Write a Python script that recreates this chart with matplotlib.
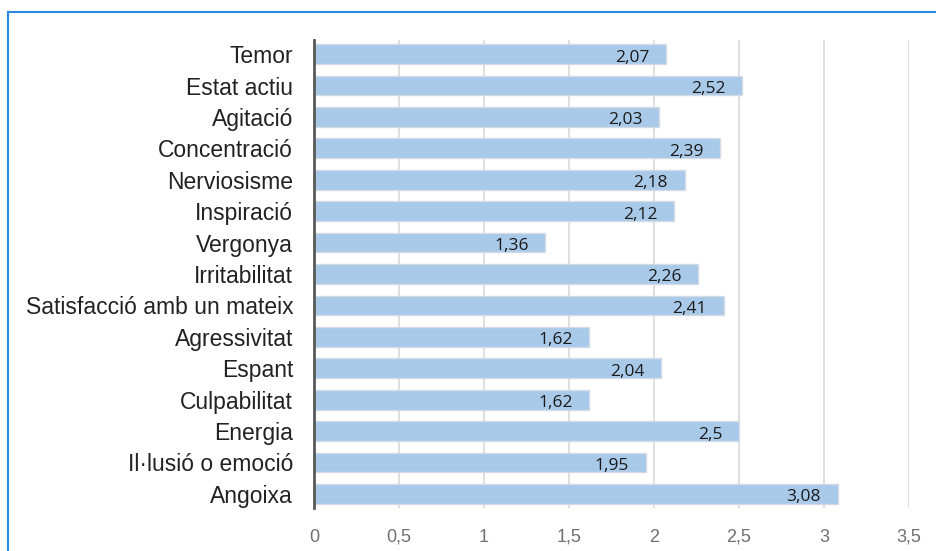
import matplotlib.pyplot as plt
from matplotlib.lines import Line2D

categories = ['Temor', 'Estat actiu', 'Agitació', 'Concentració', 'Nerviosisme',
              'Inspiració', 'Vergonya', 'Irritabilitat', 'Satisfacció amb un mateix',
              'Agressivitat', 'Espant', 'Culpabilitat', 'Energia',
              'Il·lusió o emoció', 'Angoixa']
values = [2.07, 2.52, 2.03, 2.39, 2.18, 2.12, 1.36, 2.26, 2.41,
          1.62, 2.04, 1.62, 2.5, 1.95, 3.08]
xticks = [0, 0.5, 1, 1.5, 2, 2.5, 3, 3.5]

fig = plt.figure(figsize=(9.36, 5.51), dpi=100)
ax = fig.add_axes([314/936, 1-508/551, (909-314)/936, (508-40)/551])

pos = list(range(len(categories)))
ax.barh(pos, values, height=0.63, color='#a9c9e9', edgecolor='#d3dce6', linewidth=1, zorder=3)

for p, v in zip(pos, values):
    ax.annotate(('%g' % v).replace('.', ','), xy=(v, p), xytext=(-12, -2.5),
                textcoords='offset points', ha='right', va='center',
                fontsize=12.5, color='#1a1a1a', family='Open Sans', zorder=4)

ax.set_xlim(0, 3.5)
ax.set_ylim(14.45, -0.45)
ax.set_yticks(pos)
ax.set_yticklabels(categories, fontsize=16.5, color='#222222', family='Liberation Sans')
ax.set_xticks(xticks)
ax.set_xticklabels([('%g' % t).replace('.', ',') for t in xticks],
                   fontsize=13, color='#707070', family='Liberation Sans')
ax.tick_params(axis='both', length=0)
ax.tick_params(axis='x', pad=15)
ax.tick_params(axis='y', pad=15)
ax.grid(axis='x', color='#d9d9d9', linewidth=1.2, zorder=0)
for s in ['top', 'right', 'bottom']:
    ax.spines[s].set_visible(False)
ax.spines['left'].set_color('#595959')
ax.spines['left'].set_linewidth(2)
ax.spines['left'].set_zorder(5)

# blue frame around the chart
fig.add_artist(Line2D([8/936, 1], [1-12/551, 1-12/551], color='#2b8ae0', linewidth=1.5))
fig.add_artist(Line2D([8/936, 8/936], [0, 1-12/551], color='#2b8ae0', linewidth=1.5))

fig.savefig('out.png', dpi=100)
